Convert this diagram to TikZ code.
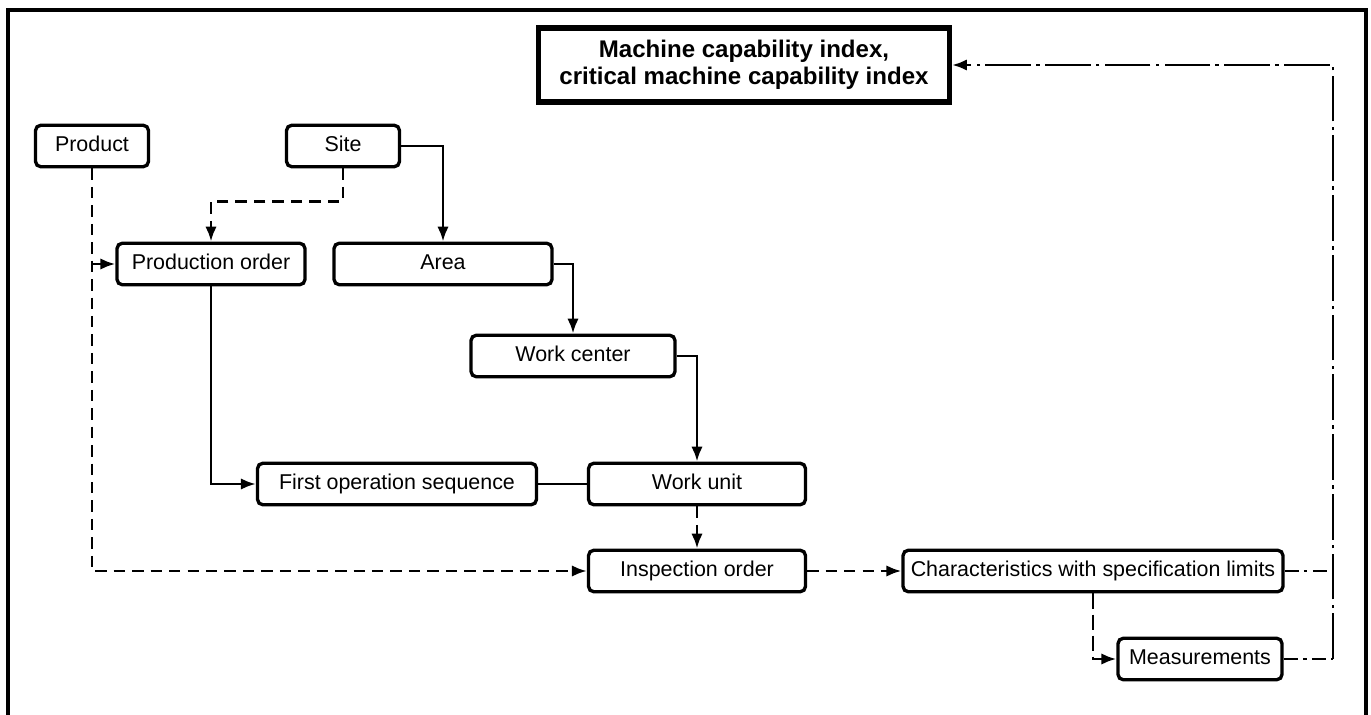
\documentclass[tikz,border=0pt]{standalone}
\usepackage{fontspec}
\setmainfont{Liberation Sans}
\usetikzlibrary{arrows.meta}

\begin{document}
\begin{tikzpicture}[
    x=0.02cm, y=-0.02cm,
    entity/.style={draw, line width=1.9pt, rounded corners=3pt, minimum height=0.83cm, inner sep=2pt, text height=9pt, text depth=2.5pt, align=center, font=\fontsize{12.2}{14}\selectfont},
    result/.style={draw, line width=2.9pt, minimum width=8.22cm, minimum height=1.48cm, inner sep=2pt, align=center, font=\fontsize{13.7}{15.5}\selectfont\bfseries},
    tip/.style={-{Latex[length=8.5pt,width=6.5pt]}},
    solidlink/.style={line width=1.6pt, tip},
    dashlink/.style={line width=1.6pt, dash pattern=on 6.5pt off 4pt, tip},
    dotlink/.style={line width=1.6pt, dash pattern=on 26pt off 3pt on 2pt off 3pt},
    shortdot/.style={line width=1.6pt, dash pattern=on 8pt off 3pt on 2pt off 3pt},
    frame/.style={line width=2pt}
  ]

  \useasboundingbox (0,0) rectangle (1371,715);
  \draw[frame] (8,715) -- (8,10) -- (1366,10) -- (1366,715);

  % Result
  \node[result] (machine) at (744,65) {Machine capability index,\\critical machine capability index};

  % Master data
  \node[entity, minimum width=2.26cm] (product) at (92,146) {Product};
  \node[entity, minimum width=2.26cm] (site) at (343,146) {Site};
  \node[entity, minimum width=3.76cm] (prodorder) at (211,264) {Production order};
  \node[entity, minimum width=4.36cm] (area) at (443,264) {Area};
  \node[entity, minimum width=4.08cm] (workcenter) at (573,356) {Work center};

  % Operation
  \node[entity, minimum width=5.58cm] (firstop) at (397,484) {First operation sequence};
  \node[entity, minimum width=4.34cm] (workunit) at (697,484) {Work unit};
  \node[entity, minimum width=4.34cm] (inspection) at (697,571) {Inspection order};
  \node[entity, minimum width=7.6cm] (chars) at (1093,571) {Characteristics with specification limits};
  \node[entity, minimum width=3.28cm] (meas) at (1200,659) {Measurements};

  \coordinate (railtop) at (1333,65);

  % Solid links
  \draw[solidlink] (site.east) -| (area.north);
  \draw[solidlink] (area.east) -| (workcenter.north);
  \draw[solidlink] (workcenter.east) -| (workunit.north);
  \draw[solidlink] (prodorder.south) |- (firstop.west);
  \draw[line width=1.6pt] (firstop.east) -- (workunit.west);

  % Dashed links
  \draw[dashlink] (site.south) -- ++(0,33) -| (prodorder.north);
  \draw[dashlink] (product.south) |- (inspection.west);
  \draw[dashlink] (product.south |- prodorder.west) -- (prodorder.west);
  \draw[dashlink] (workunit.south) -- (inspection.north);
  \draw[dashlink] (inspection.east) -- (chars.west);
  \draw[dashlink, dash pattern=on 9pt off 3pt] (chars.south) |- (meas.west);

  % Feedback
  \draw[shortdot] (chars.east) -- (chars.east -| railtop);
  \draw[shortdot] (meas.east) -- (meas.east -| railtop);
  \draw[dotlink, tip] (meas.east -| railtop) -- (railtop) -- (machine.east);

\end{tikzpicture}
\end{document}
